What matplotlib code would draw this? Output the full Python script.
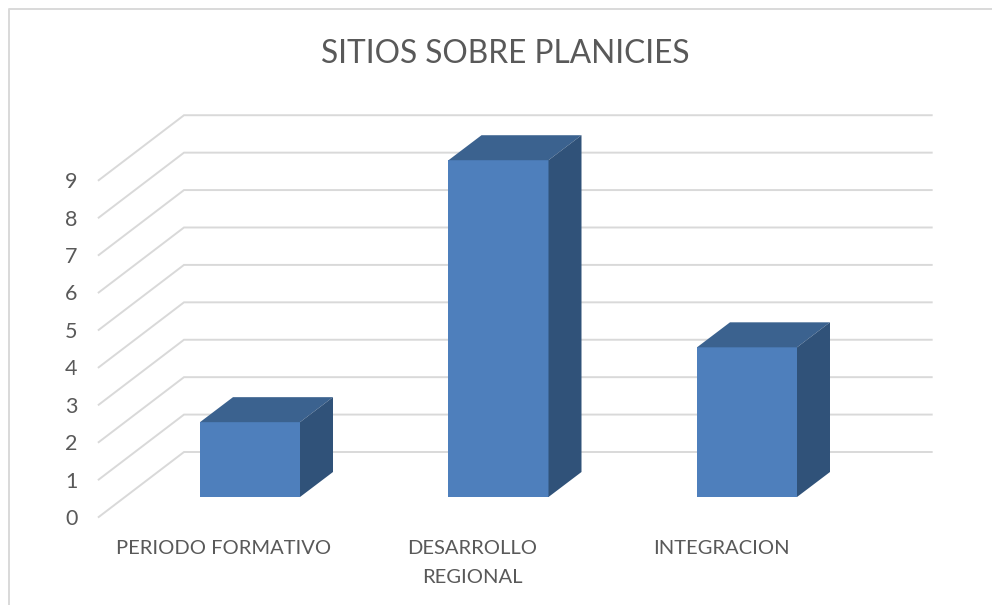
import matplotlib
matplotlib.use('Agg')
from matplotlib import pyplot as plt
from matplotlib.lines import Line2D
from matplotlib.patches import Polygon

categories = ['PERIODO FORMATIVO', 'DESARROLLO\nREGIONAL', 'INTEGRACION']
values = [2, 9, 4]
ticks = [0, 1, 2, 3, 4, 5, 6, 7, 8, 9]
title = 'SITIOS SOBRE PLANICIES'

W, H = 992, 605
px_x = 248.5  # pixeles por categoria
px_y = 37.42  # pixeles por unidad
# la caja simula 3D: desplazamientos en unidades de datos
dx = 33 / px_x
dy = 25 / px_y
bar_w = 100 / px_x

plt.rcParams['font.family'] = ['Lato', 'DejaVu Sans']
fig = plt.figure(figsize=(W / 100, H / 100), dpi=100)
ax = fig.add_axes([0, 0, 1, 1])
ax.set_xlim(-250 / px_x, (W - 250) / px_x)
ax.set_ylim(-(H - 497) / px_y, 497 / px_y)
ax.axis('off')

grid = '#D9D9D9'
text_c = '#595959'

# paredes: lineas de fondo y diagonales hacia la escala
x_front = (98.7 - 250) / px_x
x_back = (184 - 250) / px_x
x_end = (931.7 - 250) / px_x
y_front0 = -(517 - 497) / px_y
y_back0 = (497 - 452) / px_y
for t in ticks:
    ax.plot([x_front, x_back, x_end], [y_front0 + t, y_back0 + t, y_back0 + t],
            color=grid, lw=1.4, solid_joinstyle='miter', zorder=1)
    ax.text(x_front - 27.5 / px_x, y_front0 + t, str(t), ha='center', va='center_baseline',
            fontsize=15.5, color=text_c)

# barras
front_c = '#4E7FBC'
top_c = '#3B628F'
side_c = '#305279'
for i, v in enumerate(values):
    x0 = i - bar_w / 2
    x1 = i + bar_w / 2
    ax.bar(i, v, width=bar_w, color=front_c, zorder=3)
    ax.add_patch(Polygon([(x0, v), (x1, v), (x1 + dx, v + dy), (x0 + dx, v + dy)],
                         closed=True, facecolor=top_c, edgecolor='none', zorder=3))
    ax.add_patch(Polygon([(x1, 0), (x1 + dx, dy), (x1 + dx, v + dy), (x1, v)],
                         closed=True, facecolor=side_c, edgecolor='none', zorder=3))
    ax.text(i - 26 / px_x, -(540.5 - 497) / px_y, categories[i], ha='center', va='top',
            fontsize=14.5, color=text_c, linespacing=1.83)

fig.text(505.5 / W, 1 - 54 / H, title, ha='center', va='center', fontsize=22.8, color=text_c)

# marco del grafico
fig.add_artist(Line2D([8.5 / W, 8.5 / W, 1], [0, 1 - 9 / H, 1 - 9 / H], color=grid, lw=1.4))

fig.savefig('out.png', dpi=100)
